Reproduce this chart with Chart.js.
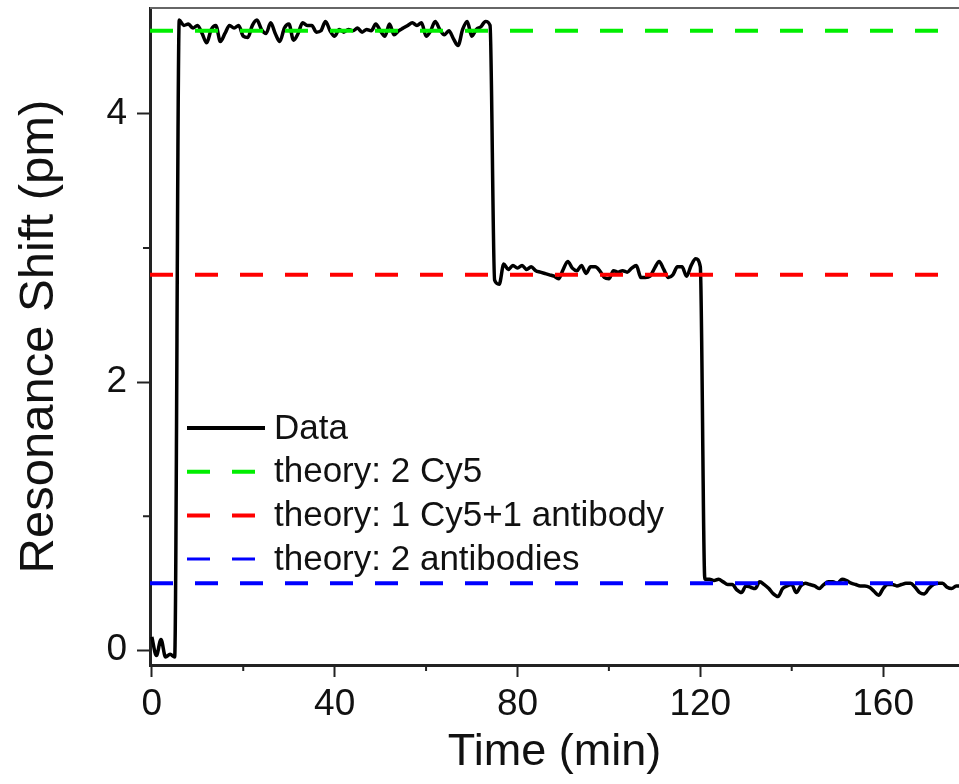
<!DOCTYPE html>
<html>
<head>
<meta charset="utf-8">
<script src="https://cdn.jsdelivr.net/npm/chart.js@4.4.0/dist/chart.umd.min.js"></script>
<style>
  html, body { margin: 0; padding: 0; background: #fff; }
  #wrap { width: 959px; height: 784px; overflow: hidden; }
</style>
</head>
<body>
<div id="wrap"><canvas id="chart" width="959" height="784"></canvas></div>
<script>
// one sample per minute, 0..177 min
const timesMin = Array.from({ length: 178 }, (_, i) => i);

const shiftPm = [
  // 0-5 baseline
  0.10, -0.04, 0.08, -0.05, -0.03, -0.05,
  // 6-33
  4.70, 4.66, 4.67, 4.64, 4.66, 4.60, 4.53, 4.63, 4.66, 4.54,
  4.60, 4.66, 4.64, 4.66, 4.58, 4.57, 4.66, 4.70, 4.63, 4.60,
  4.68, 4.60, 4.54, 4.64, 4.67, 4.55, 4.60, 4.68,
  // 34-74
  4.66, 4.66, 4.61, 4.62, 4.69, 4.62, 4.58, 4.63, 4.61, 4.63,
  4.62, 4.64, 4.61, 4.63, 4.62, 4.67, 4.62, 4.58, 4.67, 4.59,
  4.62, 4.64, 4.66, 4.68, 4.66, 4.68, 4.58, 4.62, 4.69, 4.63,
  4.59, 4.62, 4.56, 4.51, 4.63, 4.69, 4.58, 4.63, 4.65, 4.69,
  4.66,
  // 75-120
  2.76, 2.73, 2.88, 2.84, 2.87, 2.85, 2.87, 2.84, 2.86, 2.83,
  2.82, 2.81, 2.80, 2.79, 2.77, 2.84, 2.90, 2.85, 2.83, 2.87,
  2.81, 2.86, 2.86, 2.83, 2.78, 2.77, 2.83, 2.82, 2.83, 2.82,
  2.85, 2.87, 2.78, 2.78, 2.79, 2.85, 2.90, 2.84, 2.78, 2.80,
  2.86, 2.86, 2.79, 2.87, 2.92, 2.86,
  // 121-177
  0.53, 0.53, 0.52, 0.53, 0.51, 0.49, 0.49, 0.45, 0.43, 0.48,
  0.47, 0.46, 0.51, 0.49, 0.46, 0.42, 0.40, 0.46, 0.48, 0.49,
  0.43, 0.48, 0.50, 0.49, 0.48, 0.46, 0.49, 0.51, 0.51, 0.50,
  0.53, 0.52, 0.50, 0.49, 0.48, 0.48, 0.47, 0.44, 0.41, 0.46,
  0.49, 0.49, 0.48, 0.49, 0.50, 0.50, 0.47, 0.43, 0.42, 0.46,
  0.49, 0.50, 0.50, 0.47, 0.46, 0.48, 0.48
];

const theoryLabels = ['theory: 2 Cy5', 'theory: 1 Cy5+1 antibody', 'theory: 2 antibodies'];
const theoryLevels = [4.62, 2.80, 0.50];
const theoryColors = ['#00ee00', '#ff0000', '#0000ff'];

const xTicks = [0, 40, 80, 120, 160];
const xMinorTicks = [20, 60, 100, 140];
const yTicks = [0, 2, 4];
const yMinorTicks = [1, 3];

const X_MIN = -0.4, X_MAX = 176.6;
const Y_MIN = -0.11, Y_MAX = 4.79;
const FONT = '"Liberation Sans", Arial, sans-serif';

const datasets = [{
  label: 'Data',
  data: timesMin.map((t, i) => ({ x: t, y: shiftPm[i] })),
  borderColor: '#000',
  borderWidth: 3.5,
  borderJoinStyle: 'round',
  cubicInterpolationMode: 'monotone',
  pointRadius: 0,
  order: 1
}];
theoryLevels.forEach((lvl, i) => {
  datasets.push({
    label: theoryLabels[i],
    data: [{ x: X_MIN, y: lvl }, { x: X_MAX, y: lvl }],
    borderColor: theoryColors[i],
    borderWidth: 4,
    borderDash: [23, 22],
    pointRadius: 0,
    order: 0
  });
});

// minor ticks + top frame line
const frameBits = {
  id: 'frameBits',
  afterDraw(chart) {
    const { ctx, chartArea } = chart;
    const xs = chart.scales.x, ys = chart.scales.y;
    ctx.save();
    ctx.strokeStyle = '#222';
    ctx.lineWidth = 2;
    ctx.beginPath();
    xMinorTicks.forEach(v => {
      const px = xs.getPixelForValue(v);
      ctx.moveTo(px, chartArea.bottom); ctx.lineTo(px, chartArea.bottom + 6);
    });
    yMinorTicks.forEach(v => {
      const py = ys.getPixelForValue(v);
      ctx.moveTo(chartArea.left, py); ctx.lineTo(chartArea.left - 7, py);
    });
    ctx.stroke();
    ctx.strokeStyle = '#666';
    ctx.beginPath();
    ctx.moveTo(chartArea.left, chartArea.top); ctx.lineTo(chartArea.right, chartArea.top);
    ctx.stroke();
    ctx.restore();
  }
};

// legend sits inside the plot, lower left
const insideLegend = {
  id: 'insideLegend',
  afterDraw(chart) {
    const { ctx, chartArea } = chart;
    const x0 = chartArea.left + 37, y0 = 428, rowH = 43.7, sampleW = 78;
    ctx.save();
    ctx.font = '35px ' + FONT;
    ctx.textBaseline = 'middle';
    chart.data.datasets.forEach((ds, i) => {
      const y = y0 + i * rowH;
      ctx.beginPath();
      ctx.setLineDash(ds.borderDash || []);
      ctx.strokeStyle = ds.borderColor;
      ctx.lineWidth = i === 3 ? 3 : 4;
      ctx.moveTo(x0, y); ctx.lineTo(x0 + sampleW, y);
      ctx.stroke();
      ctx.setLineDash([]);
      ctx.fillStyle = '#111';
      ctx.fillText(ds.label, x0 + sampleW + 9, y + 1);
    });
    ctx.restore();
  }
};

new Chart(document.getElementById('chart').getContext('2d'), {
  type: 'line',
  data: { datasets },
  options: {
    responsive: false,
    animation: false,
    layout: { padding: { top: 8, right: 0, left: 0, bottom: 0 } },
    plugins: { legend: { display: false }, tooltip: { enabled: false } },
    scales: {
      x: {
        type: 'linear',
        min: X_MIN, max: X_MAX,
        afterBuildTicks: s => { s.ticks = xTicks.map(v => ({ value: v })); },
        afterFit: s => { s.height = 119; s.paddingLeft = 0; s.paddingRight = 0; },
        ticks: { color: '#111', font: { family: FONT, size: 37 }, padding: 6, maxRotation: 0 },
        grid: { drawOnChartArea: false, drawTicks: true, tickLength: 12, tickWidth: 2, tickColor: '#222' },
        border: { color: '#222', width: 3 },
        title: { display: true, text: 'Time (min)', color: '#111',
                 font: { family: FONT, size: 45 }, padding: { top: 0, bottom: 4 } }
      },
      y: {
        type: 'linear',
        min: Y_MIN, max: Y_MAX,
        afterBuildTicks: s => { s.ticks = yTicks.map(v => ({ value: v })); },
        afterFit: s => { s.width = 150; s.paddingTop = 0; s.paddingBottom = 0; },
        ticks: { color: '#111', font: { family: FONT, size: 37 }, padding: 10 },
        grid: { drawOnChartArea: false, drawTicks: true, tickLength: 13, tickWidth: 2, tickColor: '#222' },
        border: { color: '#222', width: 3 },
        title: { display: true, text: 'Resonance Shift (pm)', color: '#111',
                 font: { family: FONT, size: 49 }, padding: { top: 10, bottom: 0 } }
      }
    }
  },
  plugins: [frameBits, insideLegend]
});
</script>
</body>
</html>
